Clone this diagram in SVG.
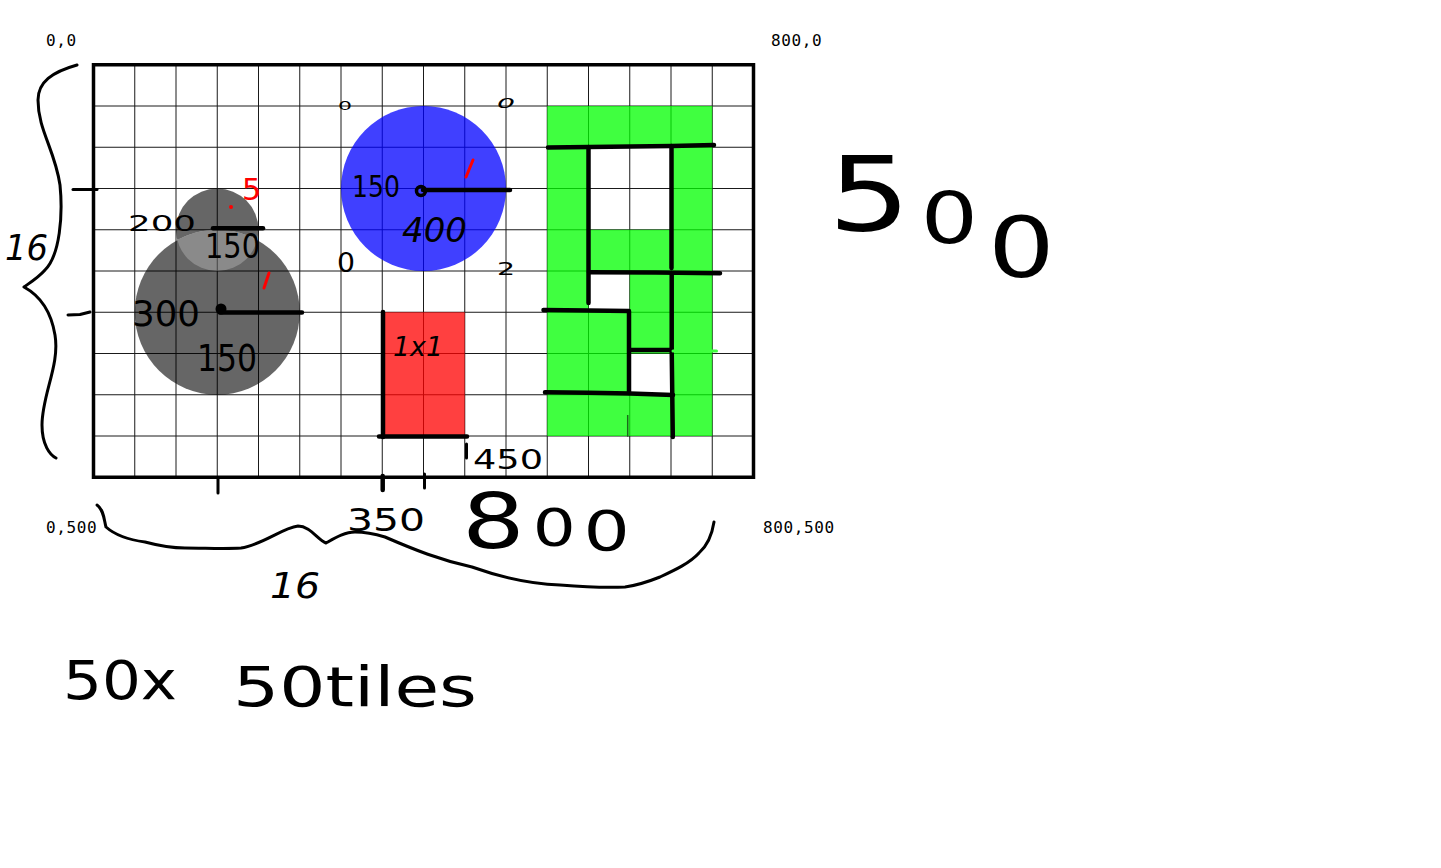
<svg xmlns="http://www.w3.org/2000/svg" width="1441" height="868" viewBox="0 0 1441 868">
<style>
.mono{font-family:"DejaVu Sans Mono","Liberation Mono",monospace;font-size:16px;letter-spacing:0.6px;fill:#000}
.hw{font-family:"DejaVu Sans","Liberation Sans",sans-serif;fill:#000}
.red{fill:#f00}
.gl{stroke:#1a1a1a;stroke-width:1;fill:none}
.ink{fill:none;stroke:#000;stroke-width:4.5;stroke-linecap:round;stroke-linejoin:round}
.pen{fill:none;stroke:#000;stroke-width:3;stroke-linecap:round;stroke-linejoin:round}
.rpen{fill:none;stroke:#f00;stroke-width:3;stroke-linecap:round}
</style>
<defs>
<clipPath id="inBig"><circle cx="217.25" cy="312.25" r="82.5"/></clipPath>
<clipPath id="outBig"><path clip-rule="evenodd" d="M0,0H1441V868H0Z M134.75,312.25a82.5,82.5 0 1,0 165,0a82.5,82.5 0 1,0 -165,0Z"/></clipPath>
</defs>
<rect width="1441" height="868" fill="#fff"/>

<g id="grid" class="gl">
<path d="M134.75,64.75V477.25M176,64.75V477.25M217.25,64.75V477.25M258.5,64.75V477.25M299.75,64.75V477.25M341,64.75V477.25M382.25,64.75V477.25M423.5,64.75V477.25M464.75,64.75V477.25M506,64.75V477.25M547.25,64.75V477.25M588.5,64.75V477.25M629.75,64.75V477.25M671,64.75V477.25M712.25,64.75V477.25"/>
<path d="M93.5,106H753.5M93.5,147.25H753.5M93.5,188.5H753.5M93.5,229.75H753.5M93.5,271H753.5M93.5,312.25H753.5M93.5,353.5H753.5M93.5,394.75H753.5M93.5,436H753.5"/>
</g>

<g id="gray-circles">
<circle cx="217.25" cy="312.25" r="82.5" fill="#000" fill-opacity="0.6"/>
<circle cx="217.25" cy="229.75" r="41.25" fill="#000" fill-opacity="0.6" clip-path="url(#outBig)"/>
<circle cx="217.25" cy="229.75" r="41.25" fill="#fff" fill-opacity="0.24" clip-path="url(#inBig)"/>
</g>

<g id="blue-circle">
<circle cx="423.5" cy="188.5" r="82.5" fill="#00f" fill-opacity="0.75"/>
</g>

<g id="red-rect">
<rect x="382.25" y="312.25" width="82.5" height="123.75" fill="#f00" fill-opacity="0.75"/>
</g>

<g id="green-maze">
<path fill="#0f0" fill-opacity="0.75" fill-rule="evenodd" d="M547.25,106H712.25V436H547.25Z M588.5,147.25H671V229.75H588.5Z M588.5,271H629.75V312.25H588.5Z M629.75,353.5H671V394.75H629.75Z"/>
<path class="ink" d="M548,147.5L589,147L672,146L714,145"/>
<path class="ink" d="M588.5,147V303"/>
<path class="ink" d="M671.5,146V268"/>
<path class="ink" d="M589,272.3L656,272.5L720,273.3"/>
<path class="ink" d="M671.7,273V350L672.8,437"/>
<path class="ink" d="M543.5,310L588,310.5L629,311V393"/>
<path class="ink" d="M630,350H671.7"/>
<path class="ink" d="M545,392.3L588,392.8L630,393.5L673,395"/>
<path d="M673,351H716.5" stroke="#40ff40" stroke-width="3" stroke-linecap="round"/>
<path d="M627.7,415V436.7" stroke="#1a6a1a" stroke-width="1.5"/>
</g>

<g id="frame">
<rect x="93.5" y="64.75" width="660" height="412.5" fill="none" stroke="#000" stroke-width="3.5"/>
</g>

<g id="coords">
<text class="mono" x="46" y="46">0,0</text>
<text class="mono" x="771" y="46">800,0</text>
<text class="mono" x="46" y="533">0,500</text>
<text class="mono" x="763" y="533">800,500</text>
</g>

<g id="marks">
<path class="pen" d="M73,189.5H97"/>
<path class="pen" d="M68,315L80,314.5L90,312"/>
<path class="pen" d="M218,478V493"/>
<path class="ink" d="M382.7,476V490" stroke-width="3.5"/>
<path class="pen" d="M424.5,474V488"/>
<path class="ink" d="M213,228.3H263" stroke-width="4"/>
<circle cx="221" cy="309" r="5.5" fill="#000"/>
<path class="ink" d="M220,312.5H302" stroke-width="5"/>
<circle cx="421" cy="191" r="4.5" fill="none" stroke="#000" stroke-width="3.5"/>
<path class="ink" d="M423,190H510" stroke-width="4"/>
<path class="ink" d="M383,312V437" stroke-width="5"/>
<path class="ink" d="M379,436.5H467" stroke-width="4.5"/>
<path class="pen" d="M466.5,444V458"/>
<path class="rpen" d="M269,273L264,288"/>
<path class="rpen" d="M473,160L466,177"/>
<circle cx="231" cy="207" r="2" fill="#f00"/>
</g>

<g id="braces">
<path class="pen" d="M77,65C52,72 38,82 38,100C38,130 55,150 60,185C63,215 60,255 45,270C38,278 28,284 24,287C35,293 50,305 55,335C60,365 42,395 42,425C42,445 50,455 56,458"/>
<path class="pen" d="M97,505C104,510 104,520 106,527C115,535 130,540 145,542C160,546 175,548 185,548C205,548 225,549 241,548C262,545 282,528 298,526C310,526 318,540 326,543C335,538 345,532 355,532C365,532 375,534 385,537C415,550 440,560 472,567C500,577 530,584 560,585C585,587 605,588 625,587C640,585 650,581 660,577C675,570 690,563 699,553C708,545 712,535 714,522"/>
</g>

<g id="labels">
<text class="hw" x="128" y="231" font-size="22" textLength="68" lengthAdjust="spacingAndGlyphs">200</text>
<text class="hw" x="205" y="258" font-size="34" textLength="55" lengthAdjust="spacingAndGlyphs">150</text>
<text class="hw red" x="242" y="200" font-size="30">5</text>
<text class="hw" x="132" y="326" font-size="36" textLength="68" lengthAdjust="spacingAndGlyphs">300</text>
<text class="hw" x="197" y="371" font-size="38" textLength="60" lengthAdjust="spacingAndGlyphs">150</text>
<text class="hw" x="352" y="197" font-size="30" textLength="48" lengthAdjust="spacingAndGlyphs">150</text>
<text class="hw" x="402" y="242" font-size="34" font-style="italic" textLength="65" lengthAdjust="spacingAndGlyphs">400</text>
<text class="hw" x="338" y="110" font-size="12" textLength="14" lengthAdjust="spacingAndGlyphs">0</text>
<text class="hw" x="497" y="108" font-size="14" font-style="italic" textLength="18" lengthAdjust="spacingAndGlyphs">0</text>
<text class="hw" x="337" y="272" font-size="26" textLength="18" lengthAdjust="spacingAndGlyphs">0</text>
<text class="hw" x="497" y="275" font-size="18" textLength="18" lengthAdjust="spacingAndGlyphs">2</text>
<text class="hw" x="393" y="356" font-size="26" font-style="italic" textLength="50" lengthAdjust="spacingAndGlyphs">1x1</text>
<text class="hw" x="473" y="469" font-size="26" textLength="70" lengthAdjust="spacingAndGlyphs">450</text>
<text class="hw" x="347" y="531" font-size="32" textLength="78" lengthAdjust="spacingAndGlyphs">350</text>
<text class="hw" transform="translate(462,548) scale(1.3,1)" font-size="76">8<tspan font-size="52" dx="6" dy="-2">0</tspan><tspan font-size="56" dx="6" dy="4">0</tspan></text>
<text class="hw" x="270" y="598" font-size="36" font-style="italic" textLength="50" lengthAdjust="spacingAndGlyphs">16</text>
<text class="hw" x="5" y="260" font-size="36" font-style="italic" textLength="43" lengthAdjust="spacingAndGlyphs">16</text>
<text class="hw" transform="translate(828,231) scale(1.25,1)" font-size="104">5<tspan font-size="72" dx="8" dy="12">0</tspan><tspan font-size="84" dx="8" dy="34">0</tspan></text>
<text class="hw" x="63" y="699" font-size="54" textLength="114" lengthAdjust="spacingAndGlyphs">50x</text>
<text class="hw" x="233" y="706" font-size="56" textLength="244" lengthAdjust="spacingAndGlyphs">50tiles</text>
</g>
</svg>
